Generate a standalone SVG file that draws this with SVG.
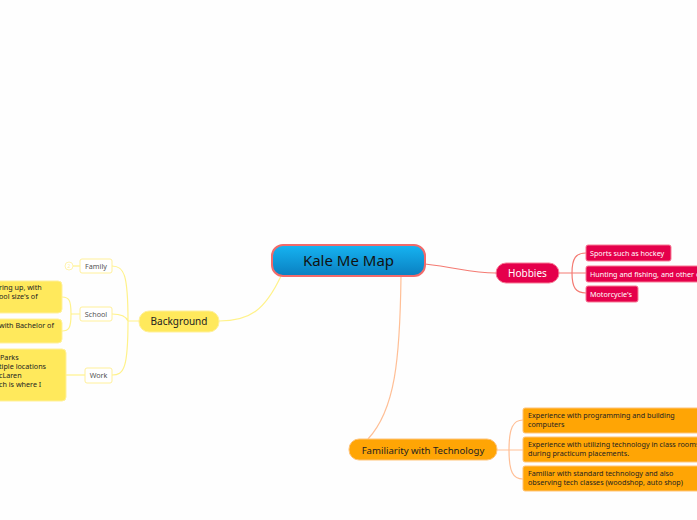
<svg xmlns="http://www.w3.org/2000/svg" width="697" height="520" viewBox="0 0 697 520">
<defs>
<linearGradient id="cg" x1="0" y1="0" x2="0" y2="1">
<stop offset="0" stop-color="#16b4f2"/>
<stop offset="1" stop-color="#0a7fc0"/>
</linearGradient>
<style>
text{font-family:"Noto Sans","Liberation Sans",sans-serif}
.c{fill:none;stroke-width:1.2}
.cr{stroke:#f47a72}
.cy{stroke:#fff28a}
.co{stroke:#ffbf96}
.hob{fill:#e5004b;stroke:#f77a95;stroke-width:1}
.hobt{fill:#fff;font-size:7.2px}
.org{fill:#ffa505;stroke:#ffc378;stroke-width:1}
.orgt{fill:#222;font-size:7.2px}
.yel{fill:#ffe95c;stroke:#fff09a;stroke-width:1}
.yelt{fill:#222;font-size:7.2px}
.wb{fill:#fff;stroke:#fff09a;stroke-width:1}
.wbt{fill:#555;font-size:7.2px}
</style>
</defs>
<rect width="697" height="520" fill="#fefefe"/>
<g id="connectors">
<path class="c cr" d="M425,264 C460,268 470,273 496,273"/>
<path class="c cy" d="M281,276 C265,310 250,321 219,321"/>
<path class="c co" d="M401,276 C400,360 395,410 368,439"/>
<path class="c cr" d="M559,273 L572,273 M572,273 C572,258 576,253 586,253 M572,273 L586,273 M572,273 C572,288 576,293 586,293"/>
<path class="c co" d="M497,450 L509,450 M509,450 C509,428 513,420 523,420 M509,450 L523,450 M509,450 C509,472 513,479 523,479"/>
<path class="c cy" d="M139,321 L128,321 M128,321 C128,274 124,266 112,266 M128,321 C126,316 120,314 112,314 M128,321 C128,368 124,375 112,375"/>
<path class="c cy" d="M80,266 L73,266"/>
<path class="c cy" d="M80,314 L71,314 M71,314 C71,300 69,297 62,297 M71,314 C71,328 69,331 62,331"/>
<path class="c cy" d="M85,375 L66,375"/>
</g>
<g id="central">
<rect x="272" y="245" width="153" height="31" rx="11" fill="url(#cg)" stroke="#f26a6a" stroke-width="2"/>
<text x="348.5" y="266" text-anchor="middle" font-size="15" fill="#111">Kale Me Map</text>
</g>
<g id="hobbies">
<rect x="496" y="263" width="63" height="20" rx="10" class="hob"/>
<text x="527.5" y="276.5" text-anchor="middle" font-size="10" fill="#fff">Hobbies</text>
</g>
<g id="hob-sports">
<rect x="586" y="245" width="85" height="16" rx="2" class="hob"/>
<text x="590" y="255.5" class="hobt">Sports such as hockey</text>
</g>
<g id="hob-hunting">
<rect x="586" y="266" width="120" height="16" rx="2" class="hob"/>
<text x="590" y="276.5" class="hobt">Hunting and fishing, and other o</text>
</g>
<g id="hob-moto">
<rect x="586" y="286" width="52" height="16" rx="2" class="hob"/>
<text x="590" y="296.5" class="hobt">Motorcycle's</text>
</g>
<g id="familiarity">
<rect x="349" y="439" width="148" height="21" rx="10" class="org"/>
<text x="423" y="453.5" text-anchor="middle" font-size="9.6" fill="#222">Familiarity with Technology</text>
</g>
<g id="fam-1">
<rect x="523" y="408" width="190" height="25" rx="2" class="org"/>
<text class="orgt"><tspan x="528" y="418">Experience with programming and building</tspan><tspan x="528" y="427">computers</tspan></text>
</g>
<g id="fam-2">
<rect x="523" y="437" width="190" height="25" rx="2" class="org"/>
<text class="orgt"><tspan x="528" y="447">Experience with utilizing technology in class rooms</tspan><tspan x="528" y="456">during practicum placements.</tspan></text>
</g>
<g id="fam-3">
<rect x="523" y="466" width="190" height="25" rx="2" class="org"/>
<text class="orgt"><tspan x="528" y="476">Familiar with standard technology and also</tspan><tspan x="528" y="485">observing tech classes (woodshop, auto shop)</tspan></text>
</g>
<g id="background">
<rect x="139" y="311" width="80" height="21" rx="10" class="yel"/>
<text x="179" y="325" text-anchor="middle" font-size="10" fill="#222">Background</text>
</g>
<g id="family">
<rect x="80" y="259" width="32" height="14" rx="2" class="wb"/>
<text x="96" y="268.5" text-anchor="middle" class="wbt">Family</text>
<circle cx="69" cy="266" r="4" fill="#fff" stroke="#fff09a" stroke-width="0.8"/>
<text x="69" y="268" text-anchor="middle" font-size="5" fill="#fff0a0">2</text>
</g>
<g id="school">
<rect x="80" y="307" width="32" height="14" rx="2" class="wb"/>
<text x="96" y="316.5" text-anchor="middle" class="wbt">School</text>
</g>
<g id="work">
<rect x="85" y="368" width="27" height="15" rx="2" class="wb"/>
<text x="98.5" y="378" text-anchor="middle" class="wbt">Work</text>
</g>
<g id="school-1">
<rect x="-10" y="281" width="72" height="32" rx="4" class="yel"/>
<text class="yelt"><tspan x="-1" y="290">ring up, with</tspan><tspan x="-1" y="299">ool size's of</tspan></text>
</g>
<g id="school-2">
<rect x="-10" y="319" width="72" height="24" rx="4" class="yel"/>
<text class="yelt"><tspan x="-1" y="328">with Bachelor of</tspan></text>
</g>
<g id="work-1">
<rect x="-10" y="349" width="76" height="52" rx="4" class="yel"/>
<text class="yelt"><tspan x="0" y="360">Parks</tspan><tspan x="-1" y="369">tiple locations</tspan><tspan x="-1" y="378">cLaren</tspan><tspan x="-1" y="387">ch is where I</tspan></text>
</g>
</svg>
